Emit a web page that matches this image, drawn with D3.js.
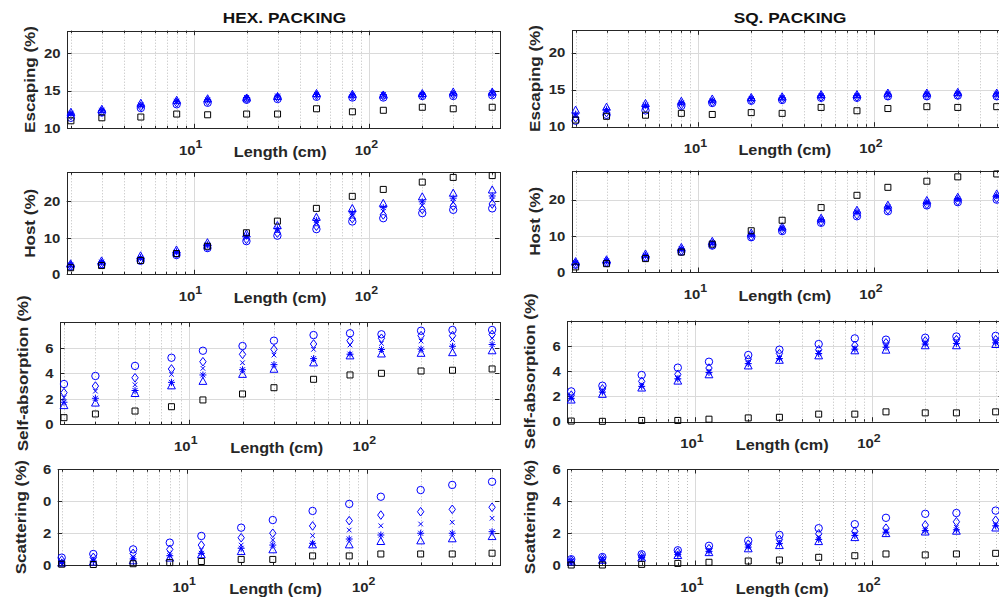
<!DOCTYPE html>
<html>
<head>
<meta charset="utf-8">
<script src="https://cdn.jsdelivr.net/npm/d3@7"></script>
<style>
  body { margin: 0; background: #fff; }
  text { font-family: "Liberation Sans", Arial, sans-serif; font-weight: bold; fill: #262626; }
</style>
</head>
<body>
<script>
// x values (cm) and the six marker series
var lengths = [2, 3, 5, 8, 12, 20, 30, 50, 80, 120, 200, 300, 500];
var seriesMarkers = ['circle', 'diamond', 'cross', 'star', 'triangle', 'square'];
var seriesColors = ['#0000ff', '#0000ff', '#0000ff', '#0000ff', '#0000ff', '#000000'];

var colTitles = ['HEX. PACKING', 'SQ. PACKING'];
var rowLabels = ['Escaping (%)', 'Host (%)', 'Self-absorption (%)', 'Scattering (%)'];
var rowDomains = [[10, 23], [0, 28], [0, 8], [0, 6]];
var rowTicks = [[10, 15, 20], [0, 10, 20], [0, 2, 4, 6], [0, 2, 4, 6]];
var hexScatterTickLabels = ['0', '2', '0', '6'];   // as printed in the source figure
var xDomain = [1.9, 550];
var xMajor = [10, 100];
var xMajorExp = ['1', '2'];

// values per series, order: circle, diamond, x, *, triangle, square
var hexEscaping = [
  [11.4, 12.1, 12.7, 13.2, 13.4, 13.8, 13.9, 14.2, 14.1, 14.1, 14.3, 14.3, 14.4],
  [11.7, 12.2, 12.9, 13.4, 13.6, 13.9, 14.1, 14.4, 14.3, 14.3, 14.4, 14.5, 14.6],
  [11.9, 12.3, 13.0, 13.5, 13.7, 14.0, 14.2, 14.5, 14.4, 14.4, 14.5, 14.6, 14.7],
  [12.0, 12.4, 13.1, 13.6, 13.8, 14.1, 14.3, 14.5, 14.4, 14.5, 14.5, 14.6, 14.7],
  [12.1, 12.5, 13.3, 13.7, 13.9, 14.0, 14.2, 14.6, 14.5, 14.4, 14.6, 14.8, 14.8],
  [11.0, 11.4, 11.5, 11.9, 11.8, 11.9, 11.9, 12.6, 12.2, 12.4, 12.8, 12.6, 12.8]
];
var sqEscaping = [
  [10.8, 11.6, 12.2, 12.8, 13.2, 13.5, 13.6, 13.9, 13.9, 14.1, 14.1, 14.2, 14.1],
  [11.2, 11.9, 12.5, 13.0, 13.3, 13.6, 13.7, 14.0, 14.0, 14.2, 14.2, 14.3, 14.2],
  [11.5, 12.1, 12.7, 13.1, 13.4, 13.7, 13.8, 14.1, 14.1, 14.3, 14.3, 14.4, 14.3],
  [11.7, 12.3, 12.9, 13.2, 13.5, 13.8, 13.9, 14.2, 14.2, 14.4, 14.4, 14.5, 14.4],
  [12.2, 12.6, 13.1, 13.4, 13.7, 13.9, 14.0, 14.3, 14.3, 14.5, 14.5, 14.6, 14.5],
  [10.9, 11.4, 11.55, 11.8, 11.65, 11.9, 11.8, 12.6, 12.15, 12.45, 12.7, 12.6, 12.7]
];
var hexHost = [
  [2.1, 2.7, 3.7, 5.3, 7.2, 9.1, 10.6, 12.4, 14.5, 15.4, 16.8, 17.7, 18.1],
  [2.3, 2.9, 4.0, 5.6, 7.5, 9.6, 11.3, 13.2, 15.3, 16.3, 17.8, 18.7, 19.3],
  [2.4, 3.1, 4.3, 5.9, 7.8, 10.1, 11.9, 14.0, 16.1, 17.3, 18.9, 19.8, 20.4],
  [2.6, 3.3, 4.6, 6.2, 8.1, 10.5, 12.5, 14.8, 16.9, 18.3, 19.9, 20.9, 21.5],
  [2.8, 3.6, 5.0, 6.6, 8.6, 11.0, 13.3, 15.6, 18.0, 19.4, 21.2, 22.2, 23.1],
  [1.8, 2.4, 3.8, 5.7, 7.7, 11.4, 14.6, 18.1, 21.4, 23.3, 25.3, 26.6, 27.1]
];
var sqHost = [
  [2.0, 2.5, 3.9, 5.6, 7.3, 9.6, 11.3, 13.6, 15.4, 16.8, 18.4, 19.3, 20.0],
  [2.2, 2.7, 4.1, 5.9, 7.5, 9.8, 11.6, 13.9, 15.8, 17.2, 18.7, 19.6, 20.4],
  [2.4, 2.9, 4.4, 6.1, 7.8, 10.1, 11.9, 14.2, 16.2, 17.6, 19.0, 19.9, 20.7],
  [2.6, 3.1, 4.6, 6.4, 8.1, 10.4, 12.1, 14.5, 16.6, 18.0, 19.3, 20.3, 21.1],
  [2.8, 3.3, 4.9, 6.7, 8.4, 10.7, 12.4, 14.8, 17.0, 18.4, 19.7, 20.6, 21.5],
  [1.4, 2.3, 3.7, 5.5, 7.7, 11.4, 14.3, 17.8, 21.2, 23.4, 25.1, 26.3, 27.1]
];
var hexSelfAbs = [
  [3.16, 3.79, 4.58, 5.22, 5.77, 6.14, 6.56, 7.0, 7.14, 7.06, 7.34, 7.4, 7.4],
  [2.48, 3.0, 3.65, 4.34, 4.91, 5.49, 5.88, 6.3, 6.56, 6.75, 6.95, 6.95, 7.05],
  [2.09, 2.6, 3.1, 3.92, 4.39, 4.83, 5.43, 5.88, 6.22, 6.35, 6.53, 6.65, 6.75],
  [1.73, 2.04, 2.65, 3.29, 3.87, 4.28, 4.68, 5.15, 5.5, 5.87, 5.9, 6.12, 6.26],
  [1.45, 1.65, 2.4, 3.0, 3.35, 3.9, 4.3, 4.8, 5.35, 5.5, 5.55, 5.6, 5.75],
  [0.52, 0.81, 1.04, 1.38, 1.91, 2.38, 2.87, 3.53, 3.87, 4.0, 4.18, 4.24, 4.34]
];
var sqSelfAbs = [
  [2.4, 2.85, 3.7, 4.28, 4.75, 5.28, 5.7, 6.15, 6.6, 6.5, 6.65, 6.75, 6.8],
  [2.1, 2.6, 3.2, 3.75, 4.25, 4.95, 5.4, 5.7, 6.05, 6.25, 6.4, 6.5, 6.5],
  [1.95, 2.45, 2.95, 3.5, 4.0, 4.75, 5.1, 5.5, 5.85, 6.05, 6.25, 6.3, 6.35],
  [1.85, 2.35, 2.8, 3.4, 3.9, 4.6, 5.0, 5.4, 5.75, 5.9, 6.15, 6.2, 6.25],
  [1.7, 2.15, 2.65, 3.2, 3.7, 4.4, 4.85, 5.2, 5.6, 5.65, 6.0, 6.0, 6.1],
  [0.05, 0.03, 0.1, 0.1, 0.2, 0.3, 0.35, 0.6, 0.6, 0.78, 0.7, 0.7, 0.78]
];
var hexScattering = [
  [0.46, 0.69, 0.98, 1.4, 1.82, 2.34, 2.82, 3.39, 3.83, 4.28, 4.7, 5.02, 5.22],
  [0.31, 0.48, 0.73, 0.98, 1.25, 1.71, 1.99, 2.45, 2.78, 3.13, 3.34, 3.49, 3.62],
  [0.21, 0.31, 0.52, 0.73, 0.94, 1.25, 1.57, 1.84, 2.19, 2.46, 2.57, 2.68, 2.93],
  [0.17, 0.25, 0.38, 0.58, 0.73, 1.05, 1.25, 1.36, 1.63, 1.88, 1.99, 1.99, 2.09],
  [0.1, 0.17, 0.25, 0.42, 0.63, 0.83, 0.94, 1.25, 1.25, 1.46, 1.5, 1.63, 1.77],
  [0.05, 0.03, 0.08, 0.15, 0.22, 0.35, 0.35, 0.57, 0.57, 0.69, 0.69, 0.69, 0.74]
];
var sqScattering = [
  [0.36, 0.5, 0.67, 0.92, 1.2, 1.52, 1.88, 2.3, 2.55, 2.95, 3.2, 3.25, 3.4],
  [0.3, 0.42, 0.58, 0.8, 1.02, 1.3, 1.6, 1.95, 2.1, 2.3, 2.5, 2.7, 2.8],
  [0.26, 0.38, 0.52, 0.72, 0.92, 1.2, 1.45, 1.75, 1.95, 2.15, 2.25, 2.35, 2.55],
  [0.22, 0.33, 0.47, 0.66, 0.85, 1.12, 1.35, 1.6, 1.85, 2.05, 2.15, 2.2, 2.45],
  [0.18, 0.28, 0.42, 0.58, 0.76, 1.0, 1.2, 1.45, 1.7, 1.95, 2.05, 2.1, 2.3],
  [0.0, 0.0, 0.04, 0.1, 0.17, 0.25, 0.31, 0.48, 0.58, 0.69, 0.63, 0.69, 0.73]
];

var panelData = [
  [hexEscaping, sqEscaping],
  [hexHost, sqHost],
  [hexSelfAbs, sqSelfAbs],
  [hexScattering, sqScattering]
];

// axes boxes in page pixels [left, right, top, bottom]
var frames = [
  [[67, 499.5, 30.7, 128.3], [571.7, 1004, 30.3, 126.7]],
  [[66.7, 499.5, 172.3, 274.3], [571.7, 1004, 170.7, 272]],
  [[60, 499.5, 322.3, 424.3], [567.3, 1003, 320.7, 421.7]],
  [[57.7, 499.5, 469.3, 565], [567.3, 1003, 469, 565]]
];

var ink = '#262626';
var stretch = 1.12;   // source text is slightly wide

var svg = d3.select('body').append('svg')
  .attr('width', 999).attr('height', 600);

function putText(g, str, x, y, size, anchor, rot) {
  var t = g.append('text')
    .attr('transform', 'translate(' + x + ',' + y + ')' + (rot ? ' rotate(' + rot + ')' : '') + ' scale(' + stretch + ',1)')
    .attr('font-size', size)
    .attr('text-anchor', anchor)
    .text(str);
  return t;
}

function markerPath(kind, x, y) {
  var p = d3.path();
  if (kind === 'circle') {
    p.moveTo(x + 3.7, y); p.arc(x, y, 3.7, 0, 2 * Math.PI);
  } else if (kind === 'square') {
    p.rect(x - 3, y - 3, 6, 6);
  } else if (kind === 'diamond') {
    p.moveTo(x, y - 4.3); p.lineTo(x + 3.2, y); p.lineTo(x, y + 4.3); p.lineTo(x - 3.2, y); p.closePath();
  } else if (kind === 'cross') {
    p.moveTo(x - 2.3, y - 2.3); p.lineTo(x + 2.3, y + 2.3);
    p.moveTo(x - 2.3, y + 2.3); p.lineTo(x + 2.3, y - 2.3);
  } else if (kind === 'star') {
    p.moveTo(x - 3.5, y); p.lineTo(x + 3.5, y);
    p.moveTo(x, y - 3.5); p.lineTo(x, y + 3.5);
    p.moveTo(x - 2.5, y - 2.5); p.lineTo(x + 2.5, y + 2.5);
    p.moveTo(x - 2.5, y + 2.5); p.lineTo(x + 2.5, y - 2.5);
  } else if (kind === 'triangle') {
    p.moveTo(x, y - 4.3); p.lineTo(x + 3.9, y + 2.8); p.lineTo(x - 3.9, y + 2.8); p.closePath();
  }
  return p.toString();
}

// minor log positions inside the domain
var minorTicks = [];
[1, 10, 100].forEach(function (dec) {
  for (var k = 2; k <= 9; k++) {
    var v = k * dec;
    if (v > xDomain[0] && v < xDomain[1]) minorTicks.push(v);
  }
});

// column titles
colTitles.forEach(function (title, c) {
  var f = frames[0][c];
  putText(svg, title, c === 0 ? 284.5 : 790, 23, 15.4, 'middle').style('fill', '#111');
});

panelData.forEach(function (rowData, r) {
  rowData.forEach(function (series, c) {
    var f = frames[r][c];
    var L = f[0], R = f[1], T = f[2], B = f[3];
    var x = d3.scaleLog().domain(xDomain).range([L, R]);
    var y = d3.scaleLinear().domain(rowDomains[r]).range([B, T]);
    var g = svg.append('g');

    // minor dotted grid
    g.selectAll('line.minor').data(minorTicks).enter().append('line')
      .attr('x1', function (d) { return Math.round(x(d)) + 0.5; })
      .attr('x2', function (d) { return Math.round(x(d)) + 0.5; })
      .attr('y1', T).attr('y2', B)
      .attr('stroke', '#bdbdbd').attr('stroke-width', 1)
      .attr('stroke-dasharray', '1,2');

    // major grid
    g.selectAll('line.vmaj').data(xMajor).enter().append('line')
      .attr('x1', function (d) { return Math.round(x(d)) + 0.5; })
      .attr('x2', function (d) { return Math.round(x(d)) + 0.5; })
      .attr('y1', T).attr('y2', B)
      .attr('stroke', '#dadada').attr('stroke-width', 1);
    g.selectAll('line.hmaj').data(rowTicks[r]).enter().append('line')
      .attr('x1', L).attr('x2', R)
      .attr('y1', function (d) { return Math.round(y(d)) + 0.5; })
      .attr('y2', function (d) { return Math.round(y(d)) + 0.5; })
      .attr('stroke', '#dadada').attr('stroke-width', 1);

    // tick marks (inward, all four sides)
    var tk = g.append('g').attr('stroke', ink).attr('stroke-width', 1);
    minorTicks.forEach(function (d) {
      var xx = Math.round(x(d)) + 0.5;
      tk.append('line').attr('x1', xx).attr('x2', xx).attr('y1', B).attr('y2', B - 2.5);
      tk.append('line').attr('x1', xx).attr('x2', xx).attr('y1', T).attr('y2', T + 2.5);
    });
    xMajor.forEach(function (d) {
      var xx = Math.round(x(d)) + 0.5;
      tk.append('line').attr('x1', xx).attr('x2', xx).attr('y1', B).attr('y2', B - 4.5);
      tk.append('line').attr('x1', xx).attr('x2', xx).attr('y1', T).attr('y2', T + 4.5);
    });
    rowTicks[r].forEach(function (d) {
      var yy = Math.round(y(d)) + 0.5;
      tk.append('line').attr('x1', L).attr('x2', L + 4.5).attr('y1', yy).attr('y2', yy);
      tk.append('line').attr('x1', R).attr('x2', R - 4.5).attr('y1', yy).attr('y2', yy);
    });

    // axes box
    g.append('rect')
      .attr('x', Math.round(L) + 0.5).attr('y', Math.round(T) + 0.5)
      .attr('width', Math.round(R) - Math.round(L)).attr('height', Math.round(B) - Math.round(T))
      .attr('fill', 'none').attr('stroke', ink).attr('stroke-width', 1);

    // y tick labels
    var labels = (r === 3 && c === 0) ? hexScatterTickLabels : rowTicks[r].map(String);
    rowTicks[r].forEach(function (d, i) {
      putText(g, labels[i], L - 6.5, y(d) + 4.7, 13.3, 'end');
    });

    // x tick labels 10^n
    xMajor.forEach(function (d, i) {
      var t = g.append('text')
        .attr('transform', 'translate(' + (x(d) - 3) + ',' + (B + 26.5) + ') scale(' + stretch + ',1)')
        .attr('font-size', 13.3)
        .attr('text-anchor', 'middle');
      t.append('tspan').text('10');
      t.append('tspan').attr('font-size', 11).attr('dy', -6.5).text(xMajorExp[i]);
    });

    // axis labels
    putText(g, 'Length (cm)', (L + Math.min(R, 999 + (R - 999))) / 2 - 3, B + 28.5, 14.5, 'middle');
    putText(g, rowLabels[r], L - 32, (T + B) / 2, 15.2, 'middle', -90);

    // markers, black squares drawn last
    series.forEach(function (vals, s) {
      g.append('g').selectAll('path').data(vals).enter().append('path')
        .attr('d', function (d, i) { return markerPath(seriesMarkers[s], x(lengths[i]), y(d)); })
        .attr('fill', 'none')
        .attr('stroke', seriesColors[s])
        .attr('stroke-width', 1);
    });
  });
});
</script>
</body>
</html>
